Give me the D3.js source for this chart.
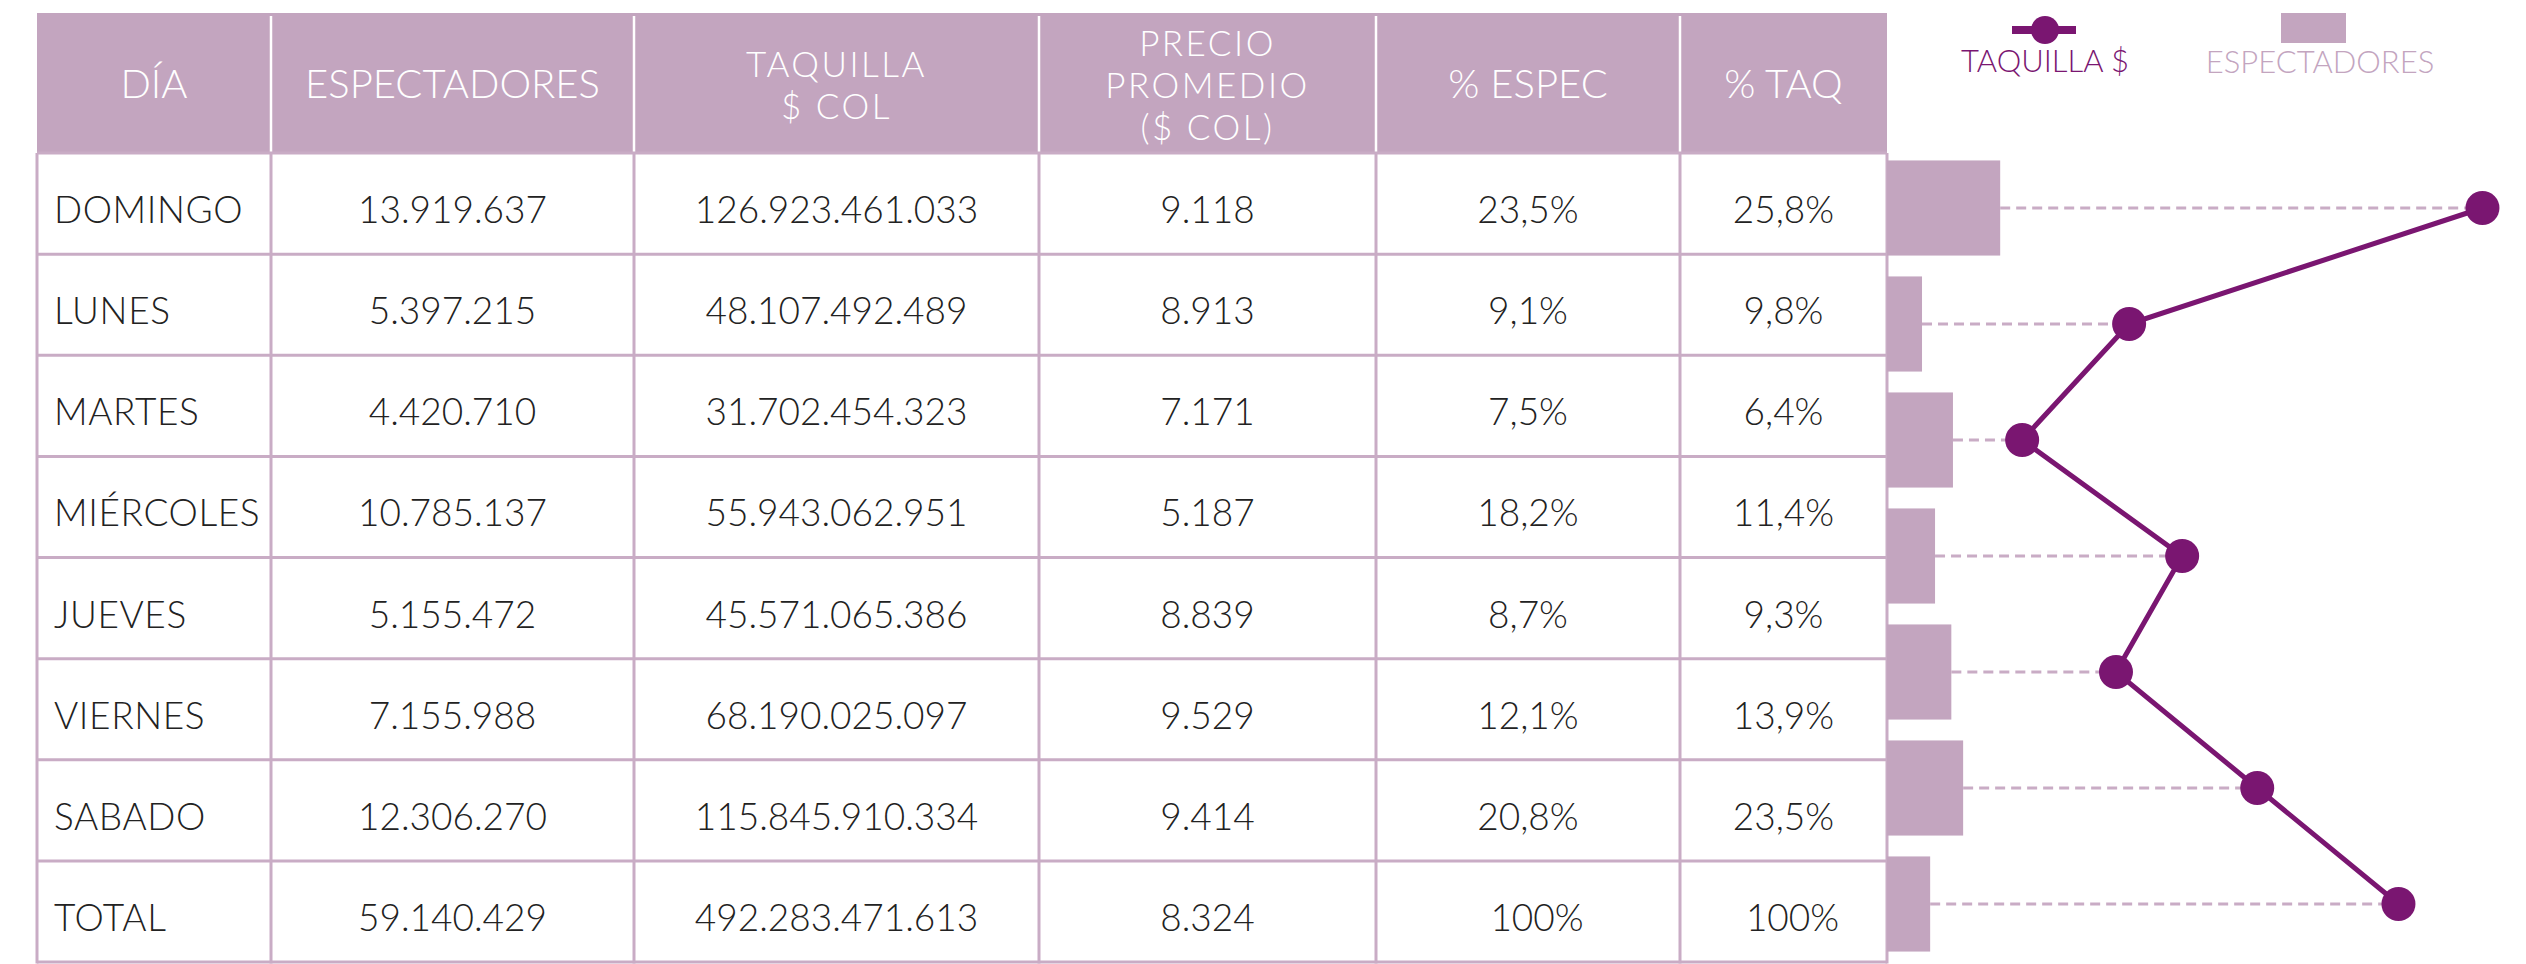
<!DOCTYPE html>
<html>
<head>
<meta charset="utf-8">
<script src="https://cdn.jsdelivr.net/npm/d3@7"></script>
<style>
  body { margin: 0; background: #fff; }
  svg { display: block; font-family: Lato, "Open Sans", sans-serif; font-weight: 300; }
</style>
</head>
<body>
<svg id="chart" width="2526" height="964"></svg>
<script>
// table data
var dias = ["DOMINGO", "LUNES", "MARTES", "MIÉRCOLES", "JUEVES", "VIERNES", "SABADO", "TOTAL"];
var espectadores = [13919637, 5397215, 4420710, 10785137, 5155472, 7155988, 12306270, 59140429];
var taquilla = [126923461033, 48107492489, 31702454323, 55943062951, 45571065386, 68190025097, 115845910334, 492283471613];
var precio = [9118, 8913, 7171, 5187, 8839, 9529, 9414, 8324];
var pctEspec = [23.5, 9.1, 7.5, 18.2, 8.7, 12.1, 20.8, 100];
var pctTaq = [25.8, 9.8, 6.4, 11.4, 9.3, 13.9, 23.5, 100];
var headers = [["DÍA"], ["ESPECTADORES"], ["TAQUILLA", "$ COL"], ["PRECIO", "PROMEDIO", "($ COL)"], ["% ESPEC"], ["% TAQ"]];

// side chart, values as drawn (millions of spectators, billions of pesos)
var chartDias = ["DOMINGO", "LUNES", "MARTES", "MIÉRCOLES", "JUEVES", "VIERNES", "SABADO"];
var barEspect = [13.9, 4.3, 8.1, 5.9, 7.9, 9.35, 5.3];
var lineTaq = [126.9, 51.6, 28.8, 62.9, 48.8, 78.9, 109.0];

var lilac = "#c3a5bf", grid = "#c9acc5", purple = "#7a1671", ink = "#222";

var es = d3.formatLocale({decimal: ",", thousands: ".", grouping: [3], currency: ["$", ""]});
var fInt = es.format(",d"), fPct = es.format(".1f");
function pct(v) { return v === 100 ? "100%" : fPct(v) + "%"; }

var svg = d3.select("#chart");

var colEdges = [37, 271, 634, 1039, 1376, 1680, 1887];
var headTop = 13, headBottom = 153, tableBottom = 962;

var y = d3.scaleBand().domain(d3.range(dias.length)).range([headBottom, tableBottom]);

// header
svg.append("rect")
    .attr("x", colEdges[0]).attr("y", headTop)
    .attr("width", colEdges[6] - colEdges[0]).attr("height", headBottom - headTop)
    .attr("fill", lilac);

svg.selectAll(".hdiv")
    .data(colEdges.slice(1, 6))
  .enter().append("line")
    .attr("x1", function(d) { return d; }).attr("x2", function(d) { return d; })
    .attr("y1", headTop + 3).attr("y2", headBottom)
    .attr("stroke", "#fff").attr("stroke-width", 2.5);

headers.forEach(function(lines, c) {
  var cx = (colEdges[c] + colEdges[c + 1]) / 2;
  var multi = lines.length > 1;
  lines.forEach(function(t, i) {
    svg.append("text")
        .attr("x", cx)
        .attr("y", 98 + (i - (lines.length - 1) / 2) * 42)
        .attr("text-anchor", "middle")
        .attr("fill", "#fff")
        .attr("font-size", multi ? 35 : 40)
        .attr("letter-spacing", multi ? 2.5 : 0)
        .text(t);
  });
});

// body grid
var body = svg.append("g");
body.selectAll(".hrow")
    .data(d3.range(dias.length + 1))
  .enter().append("line")
    .attr("x1", colEdges[0]).attr("x2", colEdges[6])
    .attr("y1", function(i) { return i < dias.length ? y(i) : tableBottom; })
    .attr("y2", function(i) { return i < dias.length ? y(i) : tableBottom; })
    .attr("stroke", grid).attr("stroke-width", 3);

body.selectAll(".vcol")
    .data(colEdges)
  .enter().append("line")
    .attr("x1", function(d) { return d; }).attr("x2", function(d) { return d; })
    .attr("y1", headBottom).attr("y2", tableBottom + 1.5)
    .attr("stroke", grid).attr("stroke-width", 3);

var rows = dias.map(function(d, i) {
  return [d, fInt(espectadores[i]), fInt(taquilla[i]), fInt(precio[i]), pct(pctEspec[i]), pct(pctTaq[i])];
});

rows.forEach(function(cells, i) {
  cells.forEach(function(t, c) {
    body.append("text")
        .attr("x", c === 0 ? colEdges[0] + 17 : (colEdges[c] + colEdges[c + 1]) / 2)
        .attr("dx", t === "100%" ? 9 : 0)
        .attr("y", y(i) + 70)
        .attr("text-anchor", c === 0 ? "start" : "middle")
        .attr("font-size", 37)
        .attr("letter-spacing", c === 0 ? 0.6 : 0)
        .attr("fill", ink)
        .text(t);
  });
});

// side chart
var yc = d3.scaleBand().domain(chartDias).range([150, 962]).paddingInner(0.18).paddingOuter(0.09);
var xBar = d3.scaleLinear().domain([0, 14]).range([1887, 2001]);
var xLine = d3.scaleLinear().domain([0, 130]).range([1887, 2497]);
var chart = svg.append("g");

chart.selectAll(".bar")
    .data(chartDias)
  .enter().append("rect")
    .attr("class", "bar")
    .attr("x", xBar(0))
    .attr("y", function(d) { return yc(d); })
    .attr("width", function(d, i) { return xBar(barEspect[i]) - xBar(0); })
    .attr("height", yc.bandwidth())
    .attr("fill", lilac);

chart.selectAll(".lead")
    .data(chartDias)
  .enter().append("line")
    .attr("x1", function(d, i) { return xBar(barEspect[i]); })
    .attr("x2", function(d, i) { return xLine(lineTaq[i]); })
    .attr("y1", function(d) { return yc(d) + yc.bandwidth() / 2; })
    .attr("y2", function(d) { return yc(d) + yc.bandwidth() / 2; })
    .attr("stroke", grid).attr("stroke-width", 3).attr("stroke-dasharray", "10,6");

var line = d3.line()
    .x(function(d, i) { return xLine(lineTaq[i]); })
    .y(function(d) { return yc(d) + yc.bandwidth() / 2; });

chart.append("path")
    .datum(chartDias)
    .attr("d", line)
    .attr("fill", "none")
    .attr("stroke", purple)
    .attr("stroke-width", 5);

chart.selectAll(".dot")
    .data(chartDias)
  .enter().append("circle")
    .attr("cx", function(d, i) { return xLine(lineTaq[i]); })
    .attr("cy", function(d) { return yc(d) + yc.bandwidth() / 2; })
    .attr("r", 17)
    .attr("fill", purple);

// legend
var lg = svg.append("g").attr("font-size", 31).attr("text-anchor", "middle");
lg.append("line").attr("x1", 2012).attr("x2", 2076).attr("y1", 30).attr("y2", 30)
    .attr("stroke", purple).attr("stroke-width", 8);
lg.append("circle").attr("cx", 2045).attr("cy", 30).attr("r", 14).attr("fill", purple);
lg.append("text").attr("x", 2045).attr("y", 72).attr("fill", purple).text("TAQUILLA $");
lg.append("rect").attr("x", 2281).attr("y", 13).attr("width", 65).attr("height", 30).attr("fill", lilac);
lg.append("text").attr("x", 2320).attr("y", 73).attr("fill", lilac).text("ESPECTADORES");
</script>
</body>
</html>
